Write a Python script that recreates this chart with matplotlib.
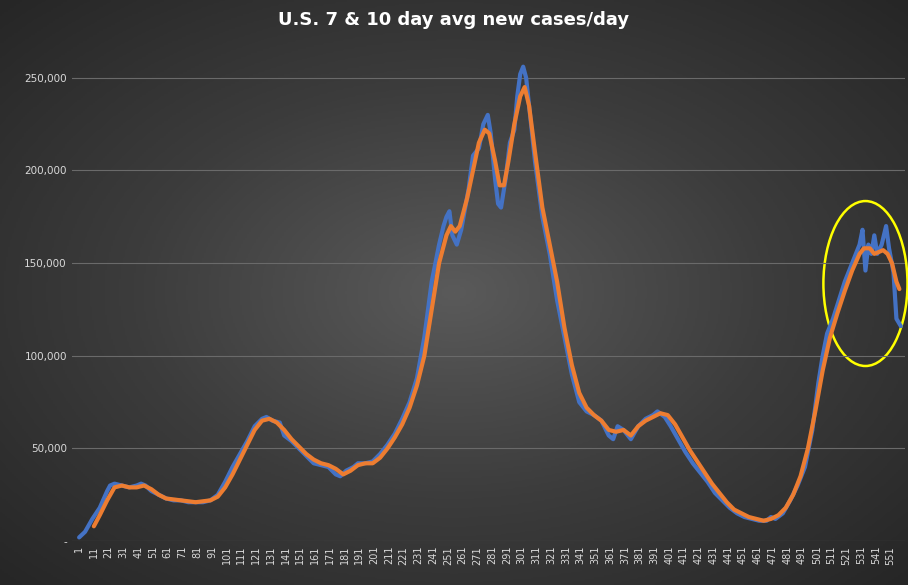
import numpy as np
import matplotlib.pyplot as plt
from matplotlib.patches import Ellipse
from matplotlib.ticker import FuncFormatter
from matplotlib.colors import LinearSegmentedColormap

# blue: 7 day avg (day, thousands)
days_7 = [1, 5, 10, 15, 20, 22, 25, 30, 35, 40, 43, 46, 50, 55, 60, 65, 70, 75, 80, 85, 90, 95, 100, 105,
          110, 115, 120, 125, 128, 132, 137, 140, 145, 150, 155, 160, 165, 170, 175, 178, 182, 187, 190,
          195, 200, 205, 210, 215, 220, 225, 230, 235, 240, 245, 248, 250, 252, 254, 257, 260, 265, 268,
          272, 275, 278, 280, 283, 285, 287, 290, 293, 296, 298, 300, 302, 304, 306, 310, 315, 320, 325,
          330, 335, 340, 345, 350, 355, 360, 363, 366, 370, 375, 380, 385, 390, 393, 398, 402, 407, 412,
          417, 422, 427, 432, 437, 442, 447, 452, 457, 462, 467, 470, 473, 478, 483, 488, 493, 498, 502,
          505, 508, 512, 516, 520, 525, 530, 532, 534, 536, 538, 540, 542, 545, 548, 550, 553, 555, 558]
avg_7 = [2, 5, 12, 18, 27, 30, 31, 30, 29, 30, 31, 30, 27, 25, 23, 22, 22, 21, 21, 21, 22, 25, 32, 40,
         47, 54, 62, 66, 67, 65, 64, 57, 54, 50, 46, 42, 41, 40, 36, 35, 38, 40, 42,
         42, 43, 47, 52, 58, 66, 75, 88, 110, 140, 160, 170, 175, 178, 165, 160, 168, 190, 208,
         212, 225, 230, 220, 195, 182, 180, 195, 215, 222, 240, 252, 256, 250, 235, 205, 175, 155, 130,
         110, 90, 75, 70, 68, 65, 57, 55, 62, 60, 55, 62, 66, 68, 70, 67, 62, 55, 48,
         42, 37, 32, 26, 22, 18, 15, 13, 12, 11, 11, 13, 12, 15, 22, 30, 40, 60, 85,
         100, 112, 120, 130, 140, 150, 160, 168, 146, 160, 155, 165, 155, 160, 170, 158, 145, 120, 116]

# orange: 10 day avg
days_10 = [11, 15, 20, 25, 30, 35, 40, 45, 50, 55, 60, 70, 80, 90, 95, 100, 105, 110, 115, 120, 125, 130,
           135, 140, 145, 150, 155, 160, 165, 170, 175, 180, 185, 190, 195, 200, 205, 210, 215, 220, 225,
           230, 235, 240, 245, 250, 253, 256, 259, 264, 268, 272, 276, 279, 283, 286, 289, 292, 296, 300,
           303, 306, 310, 315, 320, 325, 330, 335, 340, 345, 350, 355, 360, 365, 370, 375, 380, 385, 390,
           395, 400, 405, 410, 415, 420, 425, 430, 435, 440, 445, 450, 455, 460, 465, 470, 475, 480, 485,
           490, 495, 500, 505, 510, 515, 520, 525, 530, 533, 537, 540, 543, 546, 549, 552, 555, 557]
avg_10 = [8, 14, 22, 29, 30, 29, 29, 30, 28, 25, 23, 22, 21, 22, 24, 29, 36, 44, 52, 60, 65, 66,
          64, 60, 55, 51, 47, 44, 42, 41, 39, 36, 38, 41, 42, 42, 45, 50, 56, 63, 72,
          84, 100, 125, 150, 165, 170, 167, 170, 185, 200, 215, 222, 220, 205, 192, 192, 205, 225, 240,
          245, 235, 210, 180, 160, 140, 115, 95, 80, 72, 68, 65, 60, 59, 60, 57, 62, 65, 67,
          69, 68, 63, 56, 49, 43, 37, 31, 26, 21, 17, 15, 13, 12, 11, 12, 14, 18, 25,
          35, 50, 70, 92, 110, 123, 135, 146, 155, 158, 158, 155, 156, 157, 155, 150, 140, 136]

tick_days = list(range(1, 552, 10))
title = "U.S. 7 & 10 day avg new cases/day"

fig = plt.figure(figsize=(9.08, 5.85), dpi=100)

# radial dark background
bg = fig.add_axes([0, 0, 1, 1])
yy, xx = np.mgrid[-1:1:300j, -1:1:460j]
r = np.clip(np.sqrt(xx**2 + yy**2) / 1.414, 0, 1)
cmap = LinearSegmentedColormap.from_list('bg', ['#5a5a5a', '#3c3c3c', '#262626'])
bg.imshow(r, cmap=cmap, vmin=0, vmax=1, aspect='auto', extent=[0, 1, 0, 1])
bg.set_axis_off()

ax = fig.add_axes([0.079, 0.075, 0.918, 0.83])
ax.patch.set_alpha(0)
ax.plot(days_7, np.array(avg_7) * 1000, color='#4472c4', lw=3, solid_capstyle='round')
ax.plot(days_10, np.array(avg_10) * 1000, color='#ed7d31', lw=3, solid_capstyle='round')
ax.add_patch(Ellipse((534, 139000), 57, 89000, fill=False, ec='#ffff00', lw=1.8, clip_on=False))

ax.set_xlim(-4, 561)
ax.set_ylim(0, 262000)
ax.set_yticks(range(0, 250001, 50000))
ax.yaxis.set_major_formatter(FuncFormatter(lambda v, p: '-' if v == 0 else f'{int(v):,}'))
ax.set_xticks(tick_days)
ax.set_xticklabels([str(d) for d in tick_days], rotation=90)
ax.tick_params(colors='#d9d9d9', labelsize=7.5, length=0)
ax.tick_params(axis='x', labelsize=7)
ax.grid(axis='y', color='#6a6a6a', lw=0.8)
for s in ax.spines.values():
    s.set_visible(False)

fig.text(0.5, 0.965, title, ha='center', va='center', color='white', fontsize=13, fontweight='bold')

fig.savefig('out.png', dpi=100)
